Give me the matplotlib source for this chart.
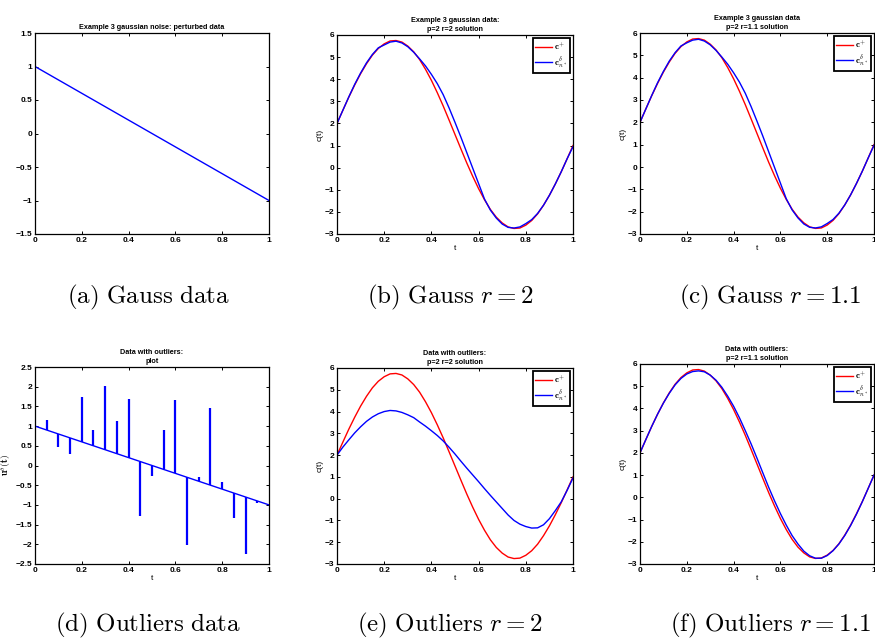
import matplotlib
matplotlib.use("Agg")
import matplotlib.pyplot as plt

plt.rcParams['font.family'] = ['Liberation Sans', 'DejaVu Sans']
plt.rcParams['font.weight'] = 'bold'
plt.rcParams['mathtext.fontset'] = 'cm'

# sample points on t (step 0.025)
t = [i * 0.025 for i in range(41)]

# exact solution c+ (red)
c_true = [2.00, 2.60, 3.19, 3.74, 4.25, 4.70, 5.09, 5.39, 5.60, 5.73,
          5.75, 5.68, 5.50, 5.24, 4.89, 4.45, 3.95, 3.39, 2.79, 2.15,
          1.50, 0.85, 0.21, -0.39, -0.95, -1.45, -1.89, -2.24, -2.50, -2.68,
          -2.75, -2.73, -2.60, -2.39, -2.09, -1.70, -1.25, -0.74, -0.19, 0.40,
          1.00]

# reconstructions (blue)
c_gauss_r2 = [2.00, 2.60, 3.20, 3.77, 4.28, 4.74, 5.12, 5.42, 5.55, 5.68,
              5.72, 5.64, 5.47, 5.22, 4.92, 4.60, 4.22, 3.80, 3.30, 2.70,
              2.05, 1.38, 0.68, -0.02, -0.72, -1.42, -1.92, -2.28, -2.55, -2.70,
              -2.73, -2.68, -2.53, -2.35, -2.07, -1.70, -1.25, -0.74, -0.19, 0.40,
              0.95]
c_gauss_r11 = [2.00, 2.60, 3.20, 3.77, 4.28, 4.74, 5.12, 5.42, 5.56, 5.68,
               5.72, 5.64, 5.47, 5.22, 4.92, 4.60, 4.22, 3.80, 3.30, 2.70,
               2.05, 1.38, 0.68, -0.02, -0.72, -1.42, -1.92, -2.28, -2.55, -2.70,
               -2.73, -2.68, -2.53, -2.35, -2.07, -1.70, -1.25, -0.74, -0.19, 0.40,
               0.97]
c_out_r2 = [2.00, 2.37, 2.70, 3.02, 3.30, 3.55, 3.75, 3.90, 4.00, 4.05,
            4.03, 3.96, 3.85, 3.72, 3.52, 3.33, 3.12, 2.90, 2.65, 2.36,
            2.05, 1.72, 1.40, 1.09, 0.78, 0.46, 0.15, -0.15, -0.45, -0.75,
            -1.00, -1.17, -1.28, -1.35, -1.34, -1.20, -0.92, -0.55, -0.15, 0.38,
            0.95]
c_out_r11 = [2.00, 2.60, 3.19, 3.74, 4.24, 4.68, 5.06, 5.35, 5.55, 5.66,
             5.69, 5.65, 5.50, 5.27, 4.95, 4.55, 4.10, 3.58, 3.00, 2.40,
             1.76, 1.10, 0.45, -0.16, -0.73, -1.25, -1.72, -2.10, -2.42, -2.63,
             -2.74, -2.74, -2.62, -2.40, -2.10, -1.72, -1.27, -0.76, -0.20, 0.40,
             1.00]

# data panels
data_t = [0.0, 1.0]
data_u = [1.0, -1.0]
spike_t = [0.05, 0.10, 0.15, 0.20, 0.25, 0.30, 0.35, 0.40, 0.45, 0.50,
           0.55, 0.60, 0.65, 0.70, 0.75, 0.80, 0.85, 0.90, 0.95]
spike_base = [0.9, 0.8, 0.7, 0.6, 0.5, 0.4, 0.3, 0.2, 0.1, 0.0,
              -0.1, -0.2, -0.3, -0.4, -0.5, -0.6, -0.7, -0.8, -0.9]
spike_val = [1.16, 0.48, 0.28, 1.75, 0.90, 2.02, 1.13, 1.69, -1.27, -0.26,
             0.91, 1.65, -2.02, -0.30, 1.47, -0.42, -1.32, -2.24, -0.96]

captions = [r'$\mathrm{(a)\ Gauss\ data}$', r'$\mathrm{(b)\ Gauss}\ r=2$',
            r'$\mathrm{(c)\ Gauss}\ r=1.1$', r'$\mathrm{(d)\ Outliers\ data}$',
            r'$\mathrm{(e)\ Outliers}\ r=2$', r'$\mathrm{(f)\ Outliers}\ r=1.1$']
caption_x = [148, 450, 770, 148, 450, 770]
caption_y = [297, 297, 297, 625, 625, 625]

W, H = 875, 639
fig = plt.figure(figsize=(W / 100, H / 100), dpi=100)

# axes boxes in pixels: left, top, right, bottom
boxes = [(35, 33, 269, 234), (337, 35, 573, 234), (640, 33, 874, 234),
         (35, 367, 269, 564), (337, 368, 573, 564), (640, 364, 874, 564)]

def make_ax(box):
    l, tp, r, b = box
    ax = fig.add_axes([l / W, 1 - b / H, (r - l) / W, (b - tp) / H])
    ax.tick_params(direction='in', length=2.5, width=0.7, top=True, right=True,
                   labelsize=6, pad=2)
    for s in ax.spines.values():
        s.set_linewidth(0.9)
    ax.set_xlim(0, 1)
    ax.set_xticks([0, 0.2, 0.4, 0.6, 0.8, 1])
    ax.set_xticklabels(['0', '0.2', '0.4', '0.6', '0.8', '1'])
    return ax

def fmt(v):
    return ('%g' % v).replace('-', '\u2212')

axes = [make_ax(b) for b in boxes]

# (a)
ax = axes[0]
ax.plot(data_t, data_u, color='#0000ff', lw=1.0)
ax.set_ylim(-1.5, 1.5)
yt = [-1.5, -1, -0.5, 0, 0.5, 1, 1.5]
ax.set_yticks(yt)
ax.set_yticklabels([fmt(v) for v in yt])
ax.set_title('Example 3 gaussian noise: perturbed data', fontsize=5.2, pad=3, fontweight='bold')

# (d)
ax = axes[3]
ax.plot(data_t, data_u, color='#0000ff', lw=1.0)
ax.vlines(spike_t, spike_base, spike_val, color='#0000ff', lw=1.6)
ax.set_ylim(-2.5, 2.5)
yt = [-2.5, -2, -1.5, -1, -0.5, 0, 0.5, 1, 1.5, 2, 2.5]
ax.set_yticks(yt)
ax.set_yticklabels([fmt(v) for v in yt])
ax.set_title('Data with outliers:\nplot', fontsize=5.2, pad=3, fontweight='bold', linespacing=1.3)
ax.set_ylabel(r'$\mathbf{u}^{\delta}\mathbf{(t)}$', fontsize=7, labelpad=1)
ax.set_xlabel('t', fontsize=6, labelpad=1)

sol_titles = ['Example 3 gaussian data:\np=2 r=2 solution',
              'Example 3 gaussian data\np=2 r=1.1 solution',
              'Data with outliers:\np=2 r=2 solution',
              'Data with outliers:\np=2 r=1.1 solution']
sol_axes = [axes[1], axes[2], axes[4], axes[5]]
sol_c = [c_gauss_r2, c_gauss_r11, c_out_r2, c_out_r11]

for ax, ttl, cc in zip(sol_axes, sol_titles, sol_c):
    ax.plot(t, c_true, color='#ff0000', lw=1.0, label=r'$\mathbf{c}^{+}$')
    ax.plot(t, cc, color='#0000ff', lw=1.0, label=r'$\mathbf{c}_{n^*}^{\delta}$')
    ax.set_ylim(-3, 6)
    yt = list(range(-3, 7))
    ax.set_yticks(yt)
    ax.set_yticklabels([fmt(v) for v in yt])
    ax.set_title(ttl, fontsize=5.2, pad=3, fontweight='bold', linespacing=1.3)
    ax.set_ylabel('c(t)', fontsize=6, labelpad=1)
    ax.set_xlabel('t', fontsize=6, labelpad=1)
    leg = ax.legend(loc='upper right', fontsize=6.5, handlelength=1.8,
                    borderpad=0.3, labelspacing=0.3, handletextpad=0.3,
                    fancybox=False, framealpha=1, borderaxespad=0.3)
    leg.get_frame().set_edgecolor('black')
    leg.get_frame().set_linewidth(1.3)

for cap, cx, cy in zip(captions, caption_x, caption_y):
    fig.text(cx / W, 1 - cy / H, cap, fontsize=18, ha='center', va='center')

fig.savefig('out.png', dpi=100)
